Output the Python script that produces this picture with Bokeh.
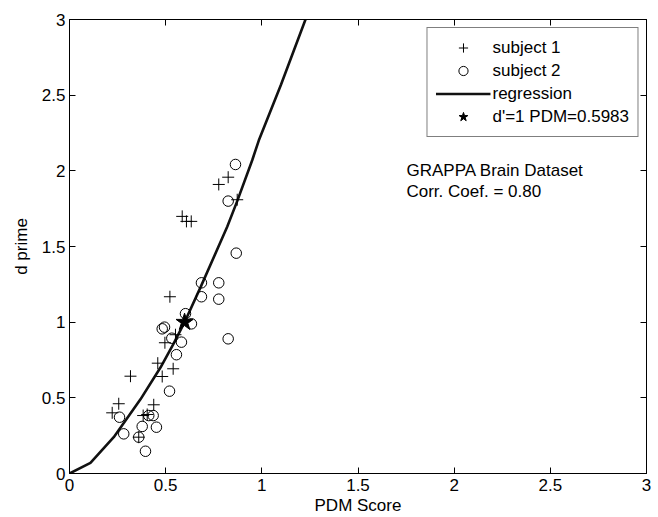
from bokeh.plotting import figure
from bokeh.models import (Legend, LegendItem, Label, FixedTicker, Range1d, LinearAxis,
                          CustomLabelingPolicy)
from bokeh.embed import file_html
from bokeh.resources import INLINE

# ---- data ----
s1_x = [0.872, 0.825, 0.776, 0.586, 0.608, 0.633, 0.522, 0.496, 0.551, 0.459,
        0.539, 0.317, 0.482, 0.256, 0.438, 0.222, 0.383, 0.404, 0.360]
s1_y = [1.809, 1.958, 1.910, 1.699, 1.666, 1.666, 1.168, 0.864, 0.917, 0.729,
        0.692, 0.643, 0.641, 0.461, 0.454, 0.401, 0.383, 0.390, 0.240]

s2_x = [0.863, 0.825, 0.867, 0.686, 0.776, 0.686, 0.776, 0.603, 0.634, 0.482,
        0.494, 0.825, 0.532, 0.582, 0.556, 0.520, 0.260, 0.412, 0.435, 0.378,
        0.452, 0.360, 0.282, 0.395]
s2_y = [2.042, 1.800, 1.456, 1.260, 1.260, 1.168, 1.152, 1.056, 0.989, 0.956,
        0.967, 0.890, 0.894, 0.868, 0.785, 0.544, 0.372, 0.383, 0.383, 0.311,
        0.306, 0.240, 0.262, 0.147]

reg_x = [0.0, 0.109, 0.23, 0.369, 0.473, 0.542, 0.5983, 0.681, 0.82, 0.872, 0.95, 0.984, 1.10, 1.227]
reg_y = [0.0, 0.07, 0.24, 0.49, 0.70, 0.86, 1.0, 1.23, 1.63, 1.80, 2.07, 2.20, 2.57, 3.0]

star_x = [0.5983]
star_y = [1.0]

ticks = [0, 0.5, 1, 1.5, 2, 2.5, 3]
tick_labels = ["0", "0.5", "1", "1.5", "2", "2.5", "3"]

FONT = "Liberation Sans"
FS = "17px"

lo, hi = ticks[0], ticks[-1]
p = figure(frame_width=577, frame_height=454, output_backend="svg", toolbar_location=None,
           x_range=Range1d(lo, hi), y_range=Range1d(lo, hi),
           min_border_left=69, min_border_right=12, min_border_top=19, min_border_bottom=44,
           x_axis_label="PDM Score", y_axis_label="d prime")
p.xgrid.visible = False
p.ygrid.visible = False
p.outline_line_color = "black"
p.outline_line_alpha = 1.0
p.background_fill_color = "white"
p.border_fill_color = "white"

overrides = {t: l for t, l in zip(ticks, tick_labels)}
for ax in (p.xaxis[0], p.yaxis[0]):
    ax.ticker = FixedTicker(ticks=ticks)
    ax.major_label_overrides = overrides
    ax.major_tick_in = 6
    ax.major_tick_out = 0
    ax.minor_tick_in = 0
    ax.minor_tick_out = 0
    ax.axis_line_color = "black"
    ax.major_tick_line_color = "black"
    ax.major_label_text_font = FONT
    ax.major_label_text_font_size = FS
    ax.major_label_text_color = "black"
    ax.axis_label_text_font = FONT
    ax.axis_label_text_font_size = FS
    ax.axis_label_text_font_style = "normal"
    ax.axis_label_text_color = "black"
p.xaxis[0].major_label_standoff = 5
p.xaxis[0].axis_label_standoff = 2
p.yaxis[0].major_label_standoff = 4
p.yaxis[0].axis_label_standoff = 8

# tick marks on the top and right edges of the box, without labels
for side in ("above", "right"):
    ax = LinearAxis(ticker=FixedTicker(ticks=ticks), major_tick_in=6, major_tick_out=0,
                    minor_tick_in=0, minor_tick_out=0, major_label_text_font_size="1px",
                    major_label_standoff=0, axis_line_color="black",
                    major_tick_line_color="black",
                    major_label_policy=CustomLabelingPolicy(code="return new Set()"))
    p.add_layout(ax, side)

r_line = p.line(reg_x, reg_y, line_color="#111111", line_width=2.6)
r_s1 = p.scatter(s1_x, s1_y, marker="cross", size=12, line_color="black", line_width=1)
r_s2 = p.scatter(s2_x, s2_y, marker="circle", size=10.5, line_color="black",
                 fill_color=None, line_width=1)
r_star = p.scatter(star_x, star_y, marker="star", size=18, line_color="black",
                   fill_color="black")

legend = Legend(items=[
    LegendItem(label="subject 1", renderers=[r_s1]),
    LegendItem(label="subject 2", renderers=[r_s2]),
    LegendItem(label="regression", renderers=[r_line]),
    LegendItem(label="d'=1 PDM=0.5983", renderers=[r_star]),
], location="top_right")
legend.label_text_font = FONT
legend.label_text_font_size = FS
legend.label_text_color = "black"
legend.border_line_color = "black"
legend.border_line_width = 1
legend.background_fill_alpha = 1.0
legend.padding = 8
legend.margin = 8
legend.spacing = 0
legend.glyph_width = 55
legend.glyph_height = 23
legend.label_height = 23
legend.label_standoff = 2
p.add_layout(legend)

for txt, yy in (("GRAPPA Brain Dataset", 2.003), ("Corr. Coef. = 0.80", 1.864)):
    p.add_layout(Label(x=1.752, y=yy, text=txt, text_font=FONT, text_font_size=FS,
                       text_color="black", text_baseline="alphabetic"))

open("out.html", "w").write(file_html(p, INLINE))
